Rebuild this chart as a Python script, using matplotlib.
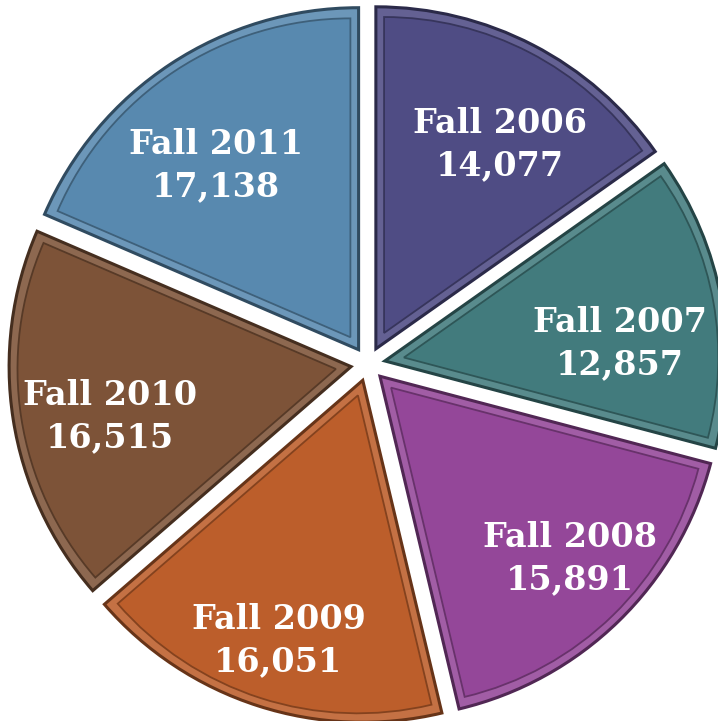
import numpy as np
import matplotlib
matplotlib.use("Agg")
import matplotlib.pyplot as plt
from matplotlib.patches import Wedge
from matplotlib.colors import to_rgb

# data
terms = ["Fall 2006", "Fall 2007", "Fall 2008", "Fall 2009", "Fall 2010", "Fall 2011"]
enroll = [14077, 12857, 15891, 16051, 16515, 17138]

colors = ["#4F4C84", "#427B7D", "#944799", "#BC5E2B", "#7D5338", "#5889AF"]
# label placement (radius, angle offset in degrees) per slice
lab_r = [0.75, 0.74, 0.82, 0.85, 0.77, 0.73]
lab_da = [-3.7, -5.6, 1.7, -0.1, 2.7, 4.2]


def shade(c, f):
    r, g, b = to_rgb(c)
    if f < 1:
        return (r * f, g * f, b * f)
    return (r + (1 - r) * (f - 1), g + (1 - g) * (f - 1), b + (1 - b) * (f - 1))


fig = plt.figure(figsize=(7.18, 7.21), dpi=100)
ax = fig.add_axes([0, 0, 1, 1])

R = 342.0  # pixels per unit radius
wedges, _ = ax.pie(enroll, startangle=90, counterclock=False,
                   explode=[0.05] * len(enroll),
                   colors=[shade(c, 1.12) for c in colors],
                   wedgeprops=dict(linewidth=2.2))

d = 0.024
for w, c in zip(wedges, colors):
    w.set_edgecolor(shade(c, 0.55))
    half = np.deg2rad(abs(w.theta2 - w.theta1) / 2)
    mid = np.deg2rad((w.theta1 + w.theta2) / 2)
    shift = d / np.sin(half)
    cx = w.center[0] + shift * np.cos(mid)
    cy = w.center[1] + shift * np.sin(mid)
    inner = Wedge((cx, cy), 1 - d - shift, w.theta1, w.theta2,
                  facecolor=c, edgecolor=shade(c, 0.7), linewidth=1.3)
    ax.add_patch(inner)

for w, t, v, r, da in zip(wedges, terms, enroll, lab_r, lab_da):
    mid = np.deg2rad((w.theta1 + w.theta2) / 2 + da)
    ax.text(r * np.cos(mid), r * np.sin(mid), f"{t}\n{v:,}",
            ha="center", va="center", color="white", fontsize=24,
            fontweight="bold", family="DejaVu Serif", linespacing=1.35)

ax.set_xlim(-368 / R, 350 / R)
ax.set_ylim(-357 / R, 364 / R)
ax.set_aspect("equal")
ax.axis("off")

fig.savefig("out.png", dpi=100)
